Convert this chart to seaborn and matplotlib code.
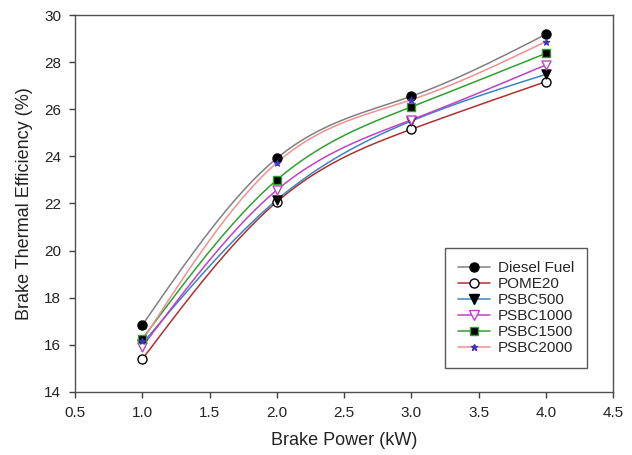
import numpy as np
import pandas as pd
import matplotlib
matplotlib.use("Agg")
import matplotlib.pyplot as plt
import seaborn as sns
from matplotlib.lines import Line2D

# ---- data ----
brake_power = [1.0, 2.0, 3.0, 4.0]
diesel = [16.84, 23.92, 26.55, 29.18]
pome20 = [15.39, 22.07, 25.15, 27.17]
psbc500 = [16.05, 22.15, 25.50, 27.48]
psbc1000 = [15.92, 22.57, 25.55, 27.88]
psbc1500 = [16.25, 23.00, 26.10, 28.37]
psbc2000 = [16.18, 23.73, 26.40, 28.87]
series_names = ["Diesel Fuel", "POME20", "PSBC500", "PSBC1000", "PSBC1500", "PSBC2000"]
x_ticks = [0.5, 1.0, 1.5, 2.0, 2.5, 3.0, 3.5, 4.0, 4.5]
y_ticks = [14, 16, 18, 20, 22, 24, 26, 28, 30]

series_values = [diesel, pome20, psbc500, psbc1000, psbc1500, psbc2000]

# styles
line_colors = ["#808080", "#b03030", "#3a86c0", "#c040c8", "#30a030", "#f09090"]
markers = ["o", "o", "v", "v", "s", "*"]
face_colors = ["black", "white", "black", "white", "black", "#4030c0"]
edge_colors = ["black", "black", "black", "#c040c8", "#30a030", "#4030c0"]
msizes = [6.5, 6.5, 6.5, 6.5, 5.8, 4.5]


def natural_spline(x, y, n=200):
    x = np.asarray(x, float)
    y = np.asarray(y, float)
    k = len(x)
    h = np.diff(x)
    A = np.zeros((k, k))
    b = np.zeros(k)
    A[0, 0] = 1
    A[-1, -1] = 1
    for i in range(1, k - 1):
        A[i, i - 1] = h[i - 1]
        A[i, i] = 2 * (h[i - 1] + h[i])
        A[i, i + 1] = h[i]
        b[i] = 3 * ((y[i + 1] - y[i]) / h[i] - (y[i] - y[i - 1]) / h[i - 1])
    c = np.linalg.solve(A, b)
    xs = np.linspace(x[0], x[-1], n)
    ys = np.empty_like(xs)
    for j, xv in enumerate(xs):
        i = min(np.searchsorted(x, xv, side="right") - 1, k - 2)
        dx = xv - x[i]
        bb = (y[i + 1] - y[i]) / h[i] - h[i] * (2 * c[i] + c[i + 1]) / 3
        dd = (c[i + 1] - c[i]) / (3 * h[i])
        ys[j] = y[i] + bb * dx + c[i] * dx ** 2 + dd * dx ** 3
    return xs, ys


sns.set_theme(style="ticks")
plt.rcParams["font.family"] = ["Liberation Sans", "DejaVu Sans"]

fig, ax = plt.subplots(figsize=(6.32, 4.55), dpi=100)
fig.subplots_adjust(left=0.1187, right=0.970, top=0.967, bottom=0.1385)

curve_frames = []
point_frames = []
for name, vals in zip(series_names, series_values):
    xs, ys = natural_spline(brake_power, vals)
    curve_frames.append(pd.DataFrame({"x": xs, "y": ys, "series": name}))
    point_frames.append(pd.DataFrame({"x": brake_power, "y": vals, "series": name}))
curves = pd.concat(curve_frames, ignore_index=True)
points = pd.concat(point_frames, ignore_index=True)

sns.lineplot(data=curves, x="x", y="y", hue="series", hue_order=series_names,
             palette=line_colors, linewidth=1.1, legend=False, ax=ax, sort=False,
             estimator=None)

for i, name in enumerate(series_names):
    sub = points[points["series"] == name]
    sns.scatterplot(data=sub, x="x", y="y", marker=markers[i], s=msizes[i] ** 2,
                    color=face_colors[i], edgecolor=edge_colors[i], linewidth=1.0,
                    ax=ax, zorder=3, legend=False)

ax.set_xlim(0.5, 4.5)
ax.set_ylim(14, 30)
ax.set_xticks(x_ticks)
ax.set_xticklabels([f"{v:.1f}" for v in x_ticks])
ax.set_yticks(y_ticks)
ax.set_yticklabels([str(v) for v in y_ticks])
ax.tick_params(axis="both", direction="out", length=4, width=1, colors="#404040",
               labelsize=11, labelcolor="#222222", pad=6)
for sp in ax.spines.values():
    sp.set_visible(True)
    sp.set_color("#505050")
    sp.set_linewidth(1.0)

ax.set_xlabel("Brake Power (kW)", fontsize=13, color="#222222", labelpad=9)
ax.set_ylabel("Brake Thermal Efficiency (%)", fontsize=13, color="#222222", labelpad=8)

handles = []
for i, name in enumerate(series_names):
    handles.append(Line2D([0], [0], color=line_colors[i], lw=1.1, marker=markers[i],
                          markersize=msizes[i], markerfacecolor=face_colors[i],
                          markeredgecolor=edge_colors[i], markeredgewidth=1.0,
                          label=name))
leg = ax.legend(handles=handles, loc="lower right", bbox_to_anchor=(0.952, 0.064),
                frameon=True, fancybox=False, fontsize=11, handlelength=2.1,
                handletextpad=0.5, labelspacing=0.13, borderpad=0.85,
                borderaxespad=0)
leg.get_frame().set_edgecolor("#303030")
leg.get_frame().set_linewidth(1.0)

fig.savefig("out.png", dpi=100)
